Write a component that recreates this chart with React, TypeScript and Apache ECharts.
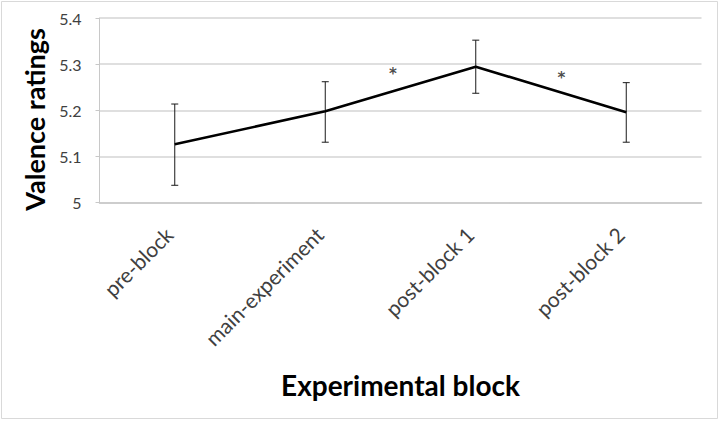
import React, { useEffect, useRef } from "react";
import * as echarts from "echarts";

const categories = ["pre-block", "main-experiment", "post-block 1", "post-block 2"];
const means = [5.1265, 5.198, 5.2945, 5.196];
const errLow = [5.0377, 5.131, 5.237, 5.131];
const errHigh = [5.2137, 5.262, 5.352, 5.26];
// significance markers, positioned in category-band units (0..4) along x
const sigX = [1.95, 3.07];
const sigY = [5.287, 5.279];
const yTicks = { min: 5, max: 5.4, interval: 0.1 };

const FONT = "Lato, 'Open Sans', sans-serif";

export default function App() {
  const ref = useRef<HTMLDivElement>(null);
  useEffect(() => {
    if (!ref.current) return;
    const chart = echarts.init(ref.current, null, { renderer: "svg" });
    const errData = categories.map((_, i) => [i, errLow[i], errHigh[i]]);
    chart.setOption({
      animation: false,
      backgroundColor: "#ffffff",
      textStyle: { fontFamily: FONT },
      grid: [
        { left: 99.5, top: 18, width: 602, height: 184.7, containLabel: false },
        { left: 93.5, top: 18, width: 602, height: 184.7, containLabel: false },
      ],
      xAxis: [
        {
          type: "category",
          gridIndex: 0,
          data: categories,
          boundaryGap: true,
          axisLine: { show: true, lineStyle: { color: "#c8c8c8", width: 1.5 } },
          axisTick: { show: false },
          axisLabel: { show: false },
          splitLine: { show: false },
        },
        {
          type: "value",
          gridIndex: 0,
          min: 0,
          max: 4,
          show: false,
        },
        {
          type: "category",
          gridIndex: 1,
          data: categories,
          boundaryGap: true,
          axisLine: { show: false },
          axisTick: { show: false },
          axisLabel: {
            show: true,
            rotate: 45,
            margin: 28,
            fontSize: 21,
            color: "#404040",
            fontFamily: FONT,
            interval: 0,
          },
          splitLine: { show: false },
        },
      ],
      yAxis: [
        {
          type: "value",
          gridIndex: 0,
          min: yTicks.min,
          max: yTicks.max,
          interval: yTicks.interval,
          name: "Valence ratings",
          nameLocation: "middle",
          nameGap: 40,
          nameRotate: 90,
          nameTextStyle: {
            fontSize: 27,
            fontWeight: "bold",
            color: "#000",
            fontFamily: FONT,
            padding: [0, 18, 0, 0],
          },
          axisLine: { show: true, lineStyle: { color: "#c8c8c8", width: 1 } },
          axisTick: { show: true, inside: false, length: 4, lineStyle: { color: "#c8c8c8" } },
          axisLabel: { fontSize: 16, color: "#404040", margin: 18, fontFamily: FONT },
          splitLine: { show: true, lineStyle: { color: "#d4d4d4", width: 1.5 } },
        },
        {
          type: "value",
          gridIndex: 1,
          min: yTicks.min,
          max: yTicks.max,
          show: false,
        },
      ],
      series: [
        {
          type: "custom",
          xAxisIndex: 0,
          yAxisIndex: 0,
          data: errData,
          renderItem: (params: any, api: any) => {
            const i = api.value(0);
            const lo = api.coord([i, api.value(1)]);
            const hi = api.coord([i, api.value(2)]);
            const hw = 3.5;
            const style = { stroke: "#1a1a1a", lineWidth: 1 };
            return {
              type: "group",
              children: [
                { type: "line", shape: { x1: hi[0], y1: hi[1], x2: lo[0], y2: lo[1] }, style },
                { type: "line", shape: { x1: hi[0] - hw, y1: hi[1], x2: hi[0] + hw, y2: hi[1] }, style },
                { type: "line", shape: { x1: lo[0] - hw, y1: lo[1], x2: lo[0] + hw, y2: lo[1] }, style },
              ],
            };
          },
          z: 3,
        },
        {
          type: "line",
          xAxisIndex: 0,
          yAxisIndex: 0,
          data: means,
          showSymbol: false,
          symbol: "none",
          lineStyle: { color: "#000000", width: 2.6 },
          z: 4,
        },
        {
          type: "scatter",
          xAxisIndex: 1,
          yAxisIndex: 0,
          data: sigX.map((x, i) => [x, sigY[i]]),
          symbolSize: 0,
          label: {
            show: true,
            formatter: "*",
            position: "inside",
            offset: [0, 4],
            fontSize: 15,
            fontWeight: "bold",
            color: "#1a1a1a",
            fontFamily: "'DejaVu Sans', sans-serif",
          },
          z: 5,
        },
      ],
      graphic: [
        {
          type: "rect",
          shape: { x: 1.5, y: 1.5, width: 716, height: 417 },
          style: { fill: "none", stroke: "#d9d9d9", lineWidth: 1 },
          silent: true,
        },
        {
          type: "text",
          x: 400.5,
          y: 385,
          style: {
            text: "Experimental block",
            fontSize: 28,
            fontWeight: "bold",
            fill: "#000",
            fontFamily: FONT,
            textAlign: "center",
            textVerticalAlign: "middle",
          },
        },
      ],
    });
    return () => chart.dispose();
  }, []);
  return (
    <div
      ref={ref}
      style={{ position: "fixed", left: 0, top: 0, width: 721, height: 421 }}
    />
  );
}
